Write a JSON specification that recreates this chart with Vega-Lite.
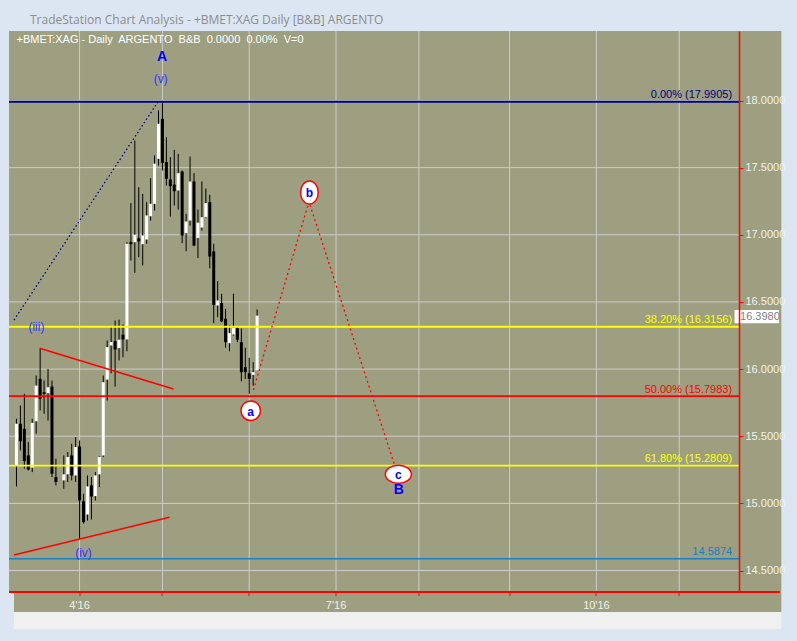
{
  "$schema": "https://vega.github.io/schema/vega-lite/v6.json",
  "width": 730,
  "height": 561,
  "autosize": {"type": "none"},
  "padding": {"left": 9, "top": 31, "right": 58, "bottom": 49},
  "background": "#dce6f2",
  "view": {"fill": "#9d9f80", "stroke": null},
  "title": {
    "text": "TradeStation Chart Analysis - +BMET:XAG Daily [B&B] ARGENTO",
    "anchor": "start",
    "frame": "group",
    "dx": 21,
    "dy": 13,
    "offset": 8,
    "baseline": "alphabetic",
    "font": "Open Sans",
    "fontSize": 12,
    "fontWeight": "normal",
    "color": "#8c8c8c"
  },
  "datasets": {
    "bars": [
      {"i":0,"o":15.283,"h":15.630,"l":15.126,"c":15.593},
      {"i":1,"o":15.593,"h":15.729,"l":15.394,"c":15.463},
      {"i":2,"o":15.555,"h":15.816,"l":15.258,"c":15.315},
      {"i":3,"o":15.357,"h":15.456,"l":15.245,"c":15.251},
      {"i":4,"o":15.266,"h":15.630,"l":15.233,"c":15.600},
      {"i":5,"o":15.612,"h":15.952,"l":15.518,"c":15.877},
      {"i":6,"o":15.927,"h":16.151,"l":15.692,"c":15.779},
      {"i":7,"o":15.828,"h":15.915,"l":15.667,"c":15.816},
      {"i":8,"o":15.821,"h":16.002,"l":15.617,"c":15.865},
      {"i":9,"o":15.870,"h":15.915,"l":15.196,"c":15.221},
      {"i":10,"o":15.196,"h":15.333,"l":15.134,"c":15.159},
      {"i":12,"o":15.171,"h":15.357,"l":15.109,"c":15.216},
      {"i":13,"o":15.216,"h":15.382,"l":15.159,"c":15.345},
      {"i":14,"o":15.357,"h":15.444,"l":15.171,"c":15.208},
      {"i":15,"o":15.208,"h":15.493,"l":15.159,"c":15.419},
      {"i":16,"o":15.424,"h":15.468,"l":14.736,"c":15.022},
      {"i":17,"o":15.016,"h":15.071,"l":14.850,"c":14.860},
      {"i":18,"o":14.917,"h":15.208,"l":14.872,"c":15.126},
      {"i":19,"o":15.134,"h":15.196,"l":14.880,"c":15.051},
      {"i":20,"o":15.054,"h":15.233,"l":15.022,"c":15.208},
      {"i":21,"o":15.216,"h":15.350,"l":15.121,"c":15.345},
      {"i":22,"o":15.357,"h":15.952,"l":15.345,"c":15.902},
      {"i":23,"o":15.922,"h":16.213,"l":15.766,"c":16.164},
      {"i":24,"o":16.176,"h":16.313,"l":15.969,"c":16.201},
      {"i":25,"o":16.208,"h":16.362,"l":15.870,"c":16.146},
      {"i":26,"o":16.156,"h":16.368,"l":16.064,"c":16.219},
      {"i":27,"o":16.256,"h":16.333,"l":16.088,"c":16.221},
      {"i":28,"o":16.221,"h":16.945,"l":16.133,"c":16.933},
      {"i":29,"o":16.945,"h":17.236,"l":16.809,"c":16.930},
      {"i":30,"o":16.945,"h":17.702,"l":16.717,"c":17.000},
      {"i":31,"o":16.975,"h":17.354,"l":16.833,"c":16.950},
      {"i":32,"o":16.930,"h":17.305,"l":16.772,"c":16.995},
      {"i":33,"o":16.965,"h":17.243,"l":16.933,"c":17.144},
      {"i":34,"o":17.138,"h":17.421,"l":17.106,"c":17.231},
      {"i":35,"o":17.231,"h":17.591,"l":17.181,"c":17.529},
      {"i":36,"o":17.566,"h":17.926,"l":17.516,"c":17.827},
      {"i":37,"o":17.864,"h":17.990,"l":17.479,"c":17.535},
      {"i":38,"o":17.541,"h":17.727,"l":17.367,"c":17.417},
      {"i":39,"o":17.412,"h":17.578,"l":17.136,"c":17.362},
      {"i":40,"o":17.374,"h":17.633,"l":17.218,"c":17.325},
      {"i":41,"o":17.330,"h":17.603,"l":17.188,"c":17.459},
      {"i":42,"o":17.471,"h":17.479,"l":16.938,"c":16.995},
      {"i":43,"o":17.012,"h":17.156,"l":16.878,"c":17.099},
      {"i":44,"o":17.106,"h":17.583,"l":17.069,"c":17.397},
      {"i":45,"o":17.397,"h":17.459,"l":16.915,"c":16.920},
      {"i":46,"o":16.976,"h":17.188,"l":16.827,"c":17.090},
      {"i":47,"o":17.054,"h":17.397,"l":17.032,"c":17.131},
      {"i":48,"o":17.131,"h":17.345,"l":17.125,"c":17.236},
      {"i":49,"o":17.243,"h":17.298,"l":16.750,"c":16.838},
      {"i":50,"o":16.876,"h":16.933,"l":16.343,"c":16.479},
      {"i":51,"o":16.474,"h":16.655,"l":16.387,"c":16.511},
      {"i":52,"o":16.491,"h":16.561,"l":16.350,"c":16.355},
      {"i":53,"o":16.375,"h":16.449,"l":16.159,"c":16.201},
      {"i":54,"o":16.193,"h":16.325,"l":16.133,"c":16.268},
      {"i":55,"o":16.258,"h":16.561,"l":16.250,"c":16.305},
      {"i":56,"o":16.305,"h":16.318,"l":16.200,"c":16.219},
      {"i":57,"o":16.201,"h":16.303,"l":15.909,"c":15.977},
      {"i":58,"o":16.014,"h":16.159,"l":15.927,"c":15.977},
      {"i":59,"o":15.969,"h":16.084,"l":15.816,"c":15.927},
      {"i":60,"o":15.957,"h":16.051,"l":15.877,"c":15.977},
      {"i":61,"o":15.989,"h":16.444,"l":15.985,"c":16.398}
    ],
    "months": [{"m":16},{"m":37},{"m":59},{"m":81},{"m":102},{"m":125},{"m":147},{"m":168}],
    "levels": [{"v":14.5},{"v":15.0},{"v":15.5},{"v":16.0},{"v":16.5},{"v":17.0},{"v":17.5},{"v":18.0}],
    "fib": [
      {"k":"f0","p":17.9905,"t":"0.00% (17.9905)"},
      {"k":"f38","p":16.3156,"t":"38.20% (16.3156)"},
      {"k":"f50","p":15.7983,"t":"50.00% (15.7983)"},
      {"k":"f62","p":15.2809,"t":"61.80% (15.2809)"},
      {"k":"f100","p":14.5874,"t":"14.5874"}
    ],
    "trend": [
      {"id":"v","i":-0.625,"p":16.365},{"id":"v","i":35.875,"p":17.99},
      {"id":"r1","i":5.875,"p":16.155},{"id":"r1","i":39.8,"p":15.852},
      {"id":"r2","i":-0.625,"p":14.616},{"id":"r2","i":38.8,"p":14.896}
    ],
    "wave": [
      {"seg":"ab","i":60.05,"p":15.844},{"seg":"ab","i":73.9,"p":17.222},
      {"seg":"bc","i":74.4,"p":17.222},{"seg":"bc","i":95.9,"p":15.2809}
    ],
    "wlab": [
      {"t":"A","i":36.9,"p":18.324,"k":"big"},
      {"t":"(v)","i":36.6,"p":18.16,"k":"sm"},
      {"t":"(iii)","i":5.05,"p":16.316,"k":"sm"},
      {"t":"(iv)","i":17.0,"p":14.633,"k":"sm"},
      {"t":"B","i":96.9,"p":15.1,"k":"big"}
    ],
    "pts": [
      {"t":"a","i":59.375,"p":15.690},
      {"t":"b","i":74.25,"p":17.315},
      {"t":"c","i":96.8,"p":15.217}
    ]
  },
  "layer": [
    {
      "data": {"values": [{}]},
      "mark": {"type": "rect", "color": "#9d9f80"},
      "encoding": {
        "x": {"datum": 181.875, "type": "quantitative", "scale": {"domain": [-0.625, 181.875], "nice": false, "zero": false},
          "axis": {"title": null, "values": [16,37,59,81,102,125,147,168],
            "labelExpr": "datum.value==16?\"4'16\":datum.value==81?\"7'16\":datum.value==147?\"10'16\":''",
            "grid": false, "domainColor": "#ff0000", "domainWidth": 2, "tickColor": "#ff0000", "tickSize": 4, "tickWidth": 1,
            "labelColor": "#f2f2ea", "labelFont": "Liberation Sans", "labelFontSize": 11, "labelPadding": 4,
            "translate": 0, "zindex": 2, "labelFlush": false, "labelOverlap": false}},
        "x2": {"datum": 193.875},
        "y": {"datum": 18.51754, "type": "quantitative", "scale": {"domain": [14.34001, 18.51754], "nice": false, "zero": false},
          "axis": {"orient": "right", "title": null, "values": [14.5,15,15.5,16,16.5,17,17.5,18], "format": ".4f",
            "grid": false, "domainColor": "#ff0000", "domainWidth": 1.5, "domainOpacity": 1, "tickColor": "#ff0000", "tickSize": 4,
            "translate": 0.5, "labelColor": "#f2f2ea", "labelFont": "Liberation Sans", "labelFontSize": 11, "labelPadding": 2, "zindex": 2}},
        "y2": {"datum": 14.191}
      }
    },
    {
      "data": {"values": [{}]},
      "mark": {"type": "rect", "color": "#9d9f80"},
      "encoding": {
        "x": {"datum": -0.625, "type": "quantitative"},
        "x2": {"datum": 181.875},
        "y": {"datum": 14.34001, "type": "quantitative"},
        "y2": {"datum": 14.191}
      }
    },
    {
      "data": {"values": [{}]},
      "mark": {"type": "rect", "color": "#f0f0f0"},
      "encoding": {
        "x": {"datum": -0.625, "type": "quantitative"},
        "x2": {"datum": 193.875},
        "y": {"datum": 14.191, "type": "quantitative"},
        "y2": {"datum": 14.0645}
      }
    },
    {
      "data": {"values": [{}]},
      "mark": {"type": "rule", "color": "#ff0000", "strokeWidth": 2},
      "encoding": {
        "x": {"datum": 181.875, "type": "quantitative"},
        "x2": {"datum": 193.5},
        "y": {"datum": 14.34001, "type": "quantitative"}
      }
    },
    {
      "data": {"name": "months"},
      "mark": {"type": "rule", "color": "#cccccc", "strokeWidth": 1},
      "encoding": {"x": {"field": "m", "type": "quantitative"}}
    },
    {
      "data": {"name": "levels"},
      "mark": {"type": "rule", "color": "#cccccc", "strokeWidth": 1},
      "encoding": {"y": {"field": "v", "type": "quantitative"}}
    },
    {
      "data": {"name": "bars"},
      "mark": {"type": "rule", "color": "#000000", "strokeWidth": 1},
      "encoding": {
        "x": {"field": "i", "type": "quantitative"},
        "y": {"field": "l", "type": "quantitative"},
        "y2": {"field": "h"}
      }
    },
    {
      "data": {"name": "bars"},
      "mark": {"type": "bar", "width": 3},
      "encoding": {
        "x": {"field": "i", "type": "quantitative"},
        "y": {"field": "o", "type": "quantitative"},
        "y2": {"field": "c"},
        "color": {"condition": {"test": "datum.c > datum.o", "value": "#ffffff"}, "value": "#000000"}
      }
    },
    {
      "data": {"name": "trend"},
      "transform": [{"filter": "datum.id == 'v'"}],
      "mark": {"type": "line", "color": "#000080", "strokeWidth": 1.3, "strokeDash": [1.5, 2.5]},
      "encoding": {
        "x": {"field": "i", "type": "quantitative"},
        "y": {"field": "p", "type": "quantitative"}
      }
    },
    {
      "data": {"name": "trend"},
      "transform": [{"filter": "datum.id != 'v'"}],
      "mark": {"type": "line", "color": "#ff0000", "strokeWidth": 1.5},
      "encoding": {
        "x": {"field": "i", "type": "quantitative"},
        "y": {"field": "p", "type": "quantitative"},
        "detail": {"field": "id"}
      }
    },
    {
      "data": {"name": "fib"},
      "mark": {"type": "rule"},
      "encoding": {
        "y": {"field": "p", "type": "quantitative"},
        "color": {"field": "k", "type": "nominal", "legend": null,
          "scale": {"domain": ["f0","f38","f50","f62","f100"], "range": ["#000080","#ffff00","#ff0000","#ffff00","#1a80c4"]}},
        "size": {"field": "k", "type": "nominal", "legend": null,
          "scale": {"domain": ["f0","f38","f50","f62","f100"], "range": [2, 1.5, 1.6, 1.4, 1.1]}}
      }
    },
    {
      "data": {"name": "fib"},
      "mark": {"type": "text", "align": "right", "baseline": "alphabetic", "dy": -3.5, "font": "Liberation Sans", "fontSize": 11},
      "encoding": {
        "x": {"datum": 181.4, "type": "quantitative"},
        "y": {"field": "p", "type": "quantitative"},
        "text": {"field": "t"},
        "color": {"field": "k", "type": "nominal", "legend": null}
      }
    },
    {
      "data": {"name": "wave"},
      "mark": {"type": "line", "color": "#ff0000", "strokeWidth": 1.3, "strokeDash": [2, 3]},
      "encoding": {
        "x": {"field": "i", "type": "quantitative"},
        "y": {"field": "p", "type": "quantitative"},
        "detail": {"field": "seg"}
      }
    },
    {
      "data": {"name": "pts"},
      "mark": {"type": "point", "filled": true, "fill": "#ffffff", "stroke": "#ff0000", "strokeWidth": 1.5, "opacity": 1},
      "encoding": {
        "x": {"field": "i", "type": "quantitative"},
        "y": {"field": "p", "type": "quantitative"},
        "shape": {"field": "t", "type": "nominal", "legend": null,
          "scale": {"domain": ["a","b","c"], "range": ["circle", "M-0.77,0A0.77,1 0 1,0 0.77,0A0.77,1 0 1,0 -0.77,0", "M-1,0A1,0.7 0 1,0 1,0A1,0.7 0 1,0 -1,0"]}},
        "size": {"field": "t", "type": "nominal", "legend": null,
          "scale": {"domain": ["a","b","c"], "range": [380, 676, 484]}}
      }
    },
    {
      "data": {"name": "pts"},
      "mark": {"type": "text", "align": "center", "baseline": "middle", "font": "Liberation Sans", "fontSize": 12, "fontWeight": "bold", "color": "#0000ff", "dy": 1},
      "encoding": {
        "x": {"field": "i", "type": "quantitative"},
        "y": {"field": "p", "type": "quantitative"},
        "text": {"field": "t"}
      }
    },
    {
      "data": {"name": "wlab"},
      "transform": [{"filter": "datum.k == 'big'"}],
      "mark": {"type": "text", "align": "center", "baseline": "middle", "font": "Liberation Sans", "fontSize": 14, "fontWeight": "bold", "color": "#0000ff"},
      "encoding": {
        "x": {"field": "i", "type": "quantitative"},
        "y": {"field": "p", "type": "quantitative"},
        "text": {"field": "t"}
      }
    },
    {
      "data": {"name": "wlab"},
      "transform": [{"filter": "datum.k == 'sm'"}],
      "mark": {"type": "text", "align": "center", "baseline": "middle", "font": "Liberation Sans", "fontSize": 12, "color": "#3333ff"},
      "encoding": {
        "x": {"field": "i", "type": "quantitative"},
        "y": {"field": "p", "type": "quantitative"},
        "text": {"field": "t"}
      }
    },
    {
      "data": {"values": [{"t": "+BMET:XAG - Daily\u00a0 ARGENTO\u00a0 B&B\u00a0 0.0000\u00a0 0.00%\u00a0 V=0"}]},
      "mark": {"type": "text", "align": "left", "baseline": "middle", "font": "Liberation Sans", "fontSize": 11, "color": "#ffffff"},
      "encoding": {
        "x": {"datum": 0.0, "type": "quantitative"},
        "y": {"datum": 18.4505, "type": "quantitative"},
        "text": {"field": "t"}
      }
    },
    {
      "data": {"values": [{"last": 16.398}]},
      "mark": {"type": "rect", "color": "#ffffff"},
      "encoding": {
        "x": {"datum": 182.0, "type": "quantitative"},
        "x2": {"datum": 193.3},
        "y": {"datum": 16.44, "type": "quantitative"},
        "y2": {"datum": 16.341}
      }
    },
    {
      "data": {"values": [{"last": 16.398}]},
      "mark": {"type": "text", "align": "left", "baseline": "middle", "font": "Liberation Sans", "fontSize": 11, "color": "#808080", "dy": 1},
      "encoding": {
        "x": {"datum": 183.4, "type": "quantitative"},
        "y": {"field": "last", "type": "quantitative"},
        "text": {"field": "last", "format": ".4f"}
      }
    }
  ],
  "resolve": {"scale": {"size": "independent", "shape": "independent"}}
}
